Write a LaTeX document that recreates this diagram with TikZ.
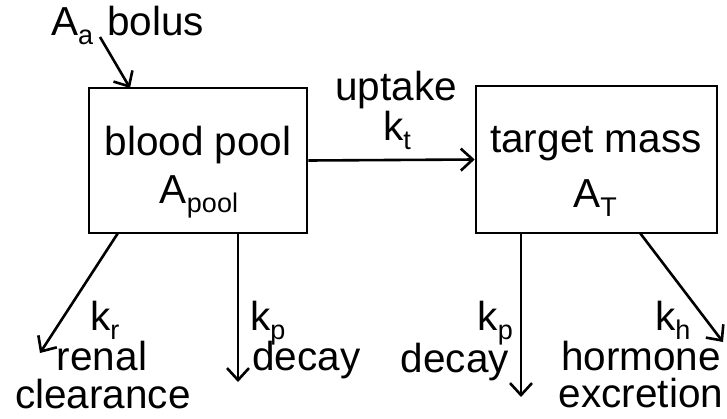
\documentclass[tikz,border=0pt]{standalone}
\usepackage{fontspec}
\setmainfont{Liberation Sans}
\usetikzlibrary{arrows.meta}
\newcommand{\sbs}[1]{\raisebox{-9pt}{\fontsize{27}{27}\selectfont #1}}
\begin{document}
\begin{tikzpicture}[x=1pt,y=-1pt,
  box/.style={draw,line width=2.6pt,inner sep=0pt},
  lbl/.style={inner sep=0pt,font=\fontsize{40.5}{40.5}\selectfont},
  flow/.style={line width=2.6pt,-{Straight Barb[length=12pt,width=22pt]}}]
\useasboundingbox (0,0) rectangle (727,418);
\node[box,minimum width=218pt,minimum height=145pt] (pool) at (198,160.5) {};
\node[box,minimum width=241pt,minimum height=147pt] (target) at (596.5,159.5) {};
% texts
\node[lbl,anchor=base west] (aa) at (51,35) {A\sbs{a}};
\node[lbl,anchor=base west] (bolus) at (107,35) {bolus};
\node[lbl,anchor=base] (bp) at (198,155) {blood pool};
\node[lbl,anchor=base] (apool) at (199,203) {A\sbs{pool}};
\node[lbl,anchor=base] (uptake) at (396,100) {uptake};
\node[lbl,anchor=base] (kt) at (397,140) {k\sbs{t}};
\node[lbl,anchor=base] (tm) at (596,152) {target mass};
\node[lbl,anchor=base] (at) at (595,207) {A\sbs{T}};
\node[lbl,anchor=base west] (kr) at (90,330) {k\sbs{r}};
\node[lbl,anchor=base] (renal) at (102,370) {renal};
\node[lbl,anchor=base] (clear) at (103,408) {clearance};
\node[lbl,anchor=base west] (kp1) at (250,330) {k\sbs{p}};
\node[lbl,anchor=base west] (decay1) at (252,370) {decay};
\node[lbl,anchor=base east] (kp2) at (513,330) {k\sbs{p}};
\node[lbl,anchor=base east] (decay2) at (509,372) {decay};
\node[lbl,anchor=base west] (kh) at (655,330) {k\sbs{h}};
\node[lbl,anchor=base] (hormone) at (641,370) {hormone};
\node[lbl,anchor=base] (excr) at (641,407) {excretion};
% connector end points
\coordinate (b0) at (100,37);
\coordinate (b1) at (130,88);
\coordinate (r0) at (118,233);
\coordinate (r1) at (40,353);
\coordinate (d0) at (238,233);
\coordinate (d1) at (238,382);
\coordinate (e0) at (521,233);
\coordinate (e1) at (521,397);
\coordinate (h0) at (640,233);
\coordinate (h1) at (723,342);
% connectors
\draw[flow] (b0) -- (b1);
\draw[flow] (pool.east) -- (target.west);
\draw[flow] (r0) -- (r1);
\draw[flow] (d0) -- (d1);
\draw[flow] (e0) -- (e1);
\draw[flow] (h0) -- (h1);
\end{tikzpicture}
\end{document}
